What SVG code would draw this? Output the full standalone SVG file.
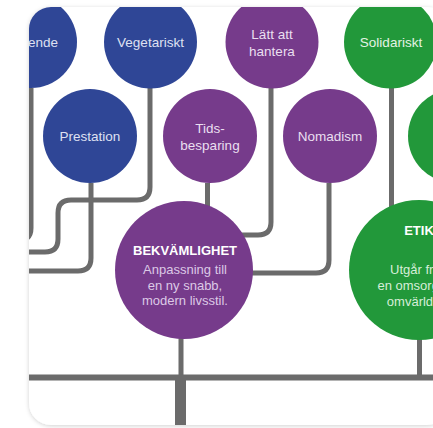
<svg xmlns="http://www.w3.org/2000/svg" width="433" height="428" viewBox="0 0 433 428">
<defs>
<style>
.blue{fill:#2f4696}
.purple{fill:#763b8b}
.green{fill:#22983a}
.lbl{font-family:"Liberation Sans",Arial,sans-serif;font-size:13.5px;text-anchor:middle}
.lb{fill:#dfe1f2}
.lp{fill:#eadff0}
.lg{fill:#e4f3e4}
.title{font-family:"Liberation Sans",Arial,sans-serif;font-size:13px;font-weight:bold;fill:#ffffff;text-anchor:middle}
.sub{font-family:"Liberation Sans",Arial,sans-serif;font-size:13px;text-anchor:middle}
.ln{fill:none;stroke:#6b6b6b;stroke-width:5}
.ln.h{stroke-width:6}
.ln.trunk{stroke-width:11}
</style>
<clipPath id="card"><rect x="29" y="7" width="420" height="418" rx="22"/></clipPath>
<filter id="sh" x="-10%" y="-10%" width="120%" height="120%"><feDropShadow dx="0" dy="1" stdDeviation="2" flood-color="#000" flood-opacity="0.18"/></filter>
</defs>
<rect width="433" height="428" fill="#ffffff"/>
<rect x="29" y="7" width="420" height="418" rx="22" fill="#ffffff" filter="url(#sh)"/>
<g clip-path="url(#card)">
<g id="connectors">
<path class="ln" d="M31,88 V228 Q31,240 19,240"/>
<path class="ln" d="M150,88 V187 Q150,200 137,200 H71 Q58,200 58,213 V239 Q58,252 45,252 H15"/>
<path class="ln" d="M91,183 V258 Q91,271 78,271 H15"/>
<path class="ln" d="M207.5,183 V210"/>
<path class="ln" d="M271,88 V222 Q271,235 258,235 H240"/>
<path class="ln" d="M329,183 V260 Q329,273 316,273 H240"/>
<path class="ln" d="M391.5,88 V210"/>
<path class="ln" d="M181,330 V378"/>
<path class="ln" d="M419.5,330 V378"/>
<path class="ln h" d="M20,377.5 H440"/>
<path class="ln trunk" d="M180.5,377 V430"/>
</g>
<g id="n-ende"><circle class="blue" cx="31" cy="42" r="46"/><text class="lbl lb" x="58" y="47" style="text-anchor:end">ende</text></g>
<g id="n-vegetariskt"><circle class="blue" cx="150.5" cy="42" r="46.5"/><text class="lbl lb" x="150.5" y="47">Vegetariskt</text></g>
<g id="n-prestation"><circle class="blue" cx="90" cy="136" r="47"/><text class="lbl lb" x="90" y="140.5">Prestation</text></g>
<g id="n-tidsbesparing"><circle class="purple" cx="210" cy="136" r="47"/><text class="lbl lp" x="210" y="133">Tids-</text><text class="lbl lp" x="210" y="150">besparing</text></g>
<g id="n-lattatt"><circle class="purple" cx="272" cy="42" r="46.5"/><text class="lbl lp" x="272" y="39">Lätt att</text><text class="lbl lp" x="272" y="56">hantera</text></g>
<g id="n-nomadism"><circle class="purple" cx="330" cy="136" r="47"/><text class="lbl lp" x="330" y="141">Nomadism</text></g>
<g id="n-solidariskt"><circle class="green" cx="390.5" cy="42" r="46.5"/><text class="lbl lg" x="391" y="47">Solidariskt</text></g>
<g id="n-right"><circle class="green" cx="455" cy="136" r="47"/></g>
<g id="n-bekvamlighet"><circle class="purple" cx="184" cy="270" r="69"/><text class="title" x="185" y="254.5">BEKVÄMLIGHET</text><text class="sub" x="185" y="274" fill="#dcc9e6">Anpassning till</text><text class="sub" x="185" y="289.5" fill="#dcc9e6">en ny snabb,</text><text class="sub" x="185" y="304.5" fill="#dcc9e6">modern livsstil.</text></g>
<g id="n-etik"><circle class="green" cx="419" cy="270" r="70"/><text class="title" x="419" y="235">ETIK</text><text class="sub" x="419" y="273.5" fill="#d6eed8">Utgår från</text><text class="sub" x="419" y="289.5" fill="#d6eed8">en omsorg om</text><text class="sub" x="419" y="305.5" fill="#d6eed8">omvärlden.</text></g>
</g>
</svg>
